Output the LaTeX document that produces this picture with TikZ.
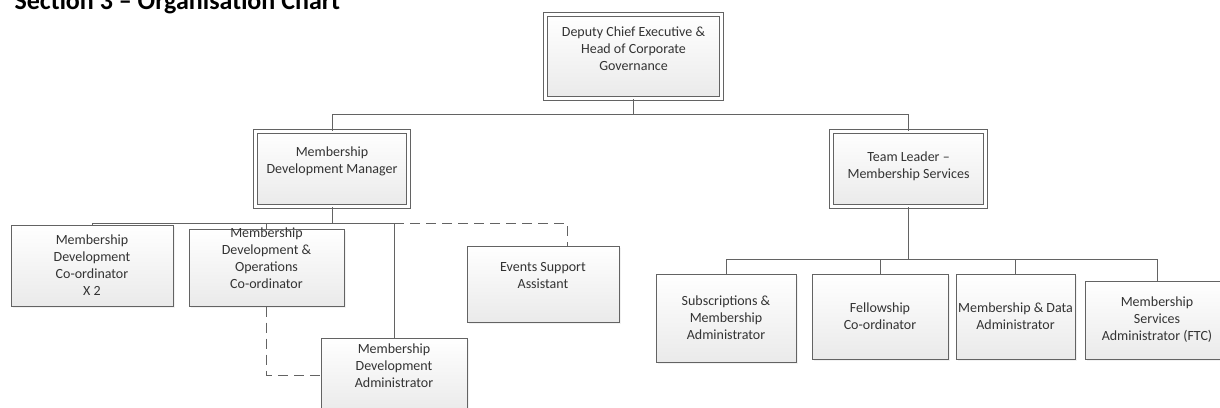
\documentclass[tikz,border=0pt]{standalone}
\usepackage{fontspec}
\setmainfont{Carlito}
\usetikzlibrary{positioning,shadows}
\definecolor{linegray}{HTML}{636363}
\definecolor{boxgray}{HTML}{EAEAEA}
\definecolor{textgray}{HTML}{333333}
\newcommand{\rolelabel}[2][0pt]{\raisebox{\dimexpr#1-5pt\relax}[0pt][0pt]{\begin{tabular}{@{}c@{}}#2\end{tabular}}}
\tikzset{
  role/.style={draw=linegray, line width=1pt, top color=white, bottom color=boxgray,
    inner sep=1pt, text=textgray, font=\fontsize{14}{17}\selectfont,
    drop shadow={opacity=0.1, shadow xshift=1.5pt, shadow yshift=-1.5pt}},
  head/.style={role, double=white, double distance=2.4pt},
  link/.style={draw=linegray, line width=1pt},
  dashed link/.style={link, dash pattern=on 10pt off 6pt}
}
\begin{document}
\begin{tikzpicture}[x=1pt, y=-1pt]
    \useasboundingbox (0,0) rectangle (1220,407);
    \node[anchor=base west, font=\fontsize{26}{31}\selectfont\bfseries] (title) at (11,9) {Section 3 – Organisation Chart};

    \node[head, minimum width=176pt, minimum height=84pt] (dce) at (633.5,56.5) {\rolelabel[8pt]{Deputy Chief Executive \&\\Head of Corporate\\Governance}};
    \node[head, minimum width=153pt, minimum height=75pt] (mdm) at (332,169) {\rolelabel[9pt]{Membership\\Development Manager}};
    \node[head, minimum width=154pt, minimum height=75pt] (tl) at (908.5,169) {\rolelabel[3.5pt]{Team Leader –\\Membership Services}};

    \node[role, minimum width=162pt, minimum height=81pt] (mdc) at (92,265.5) {\rolelabel{Membership\\Development\\Co-ordinator\\X 2}};
    \node[role, minimum width=155pt, minimum height=77pt, right=15pt of mdc, yshift=-2pt] (mdoc) {\rolelabel[9pt]{Membership\\Development \&\\Operations\\Co-ordinator}};
    \node[role, minimum width=152pt, minimum height=76pt] (esa) at (543,284) {\rolelabel[9pt]{Events Support\\Assistant}};
    \node[role, minimum width=146pt, minimum height=74pt] (mda) at (394,375) {\rolelabel[9pt]{Membership\\Development\\Administrator}};

    \node[role, minimum width=140pt, minimum height=88pt] (sma) at (726,318) {\rolelabel{Subscriptions \&\\Membership\\Administrator}};
    \node[role, minimum width=136pt, minimum height=85pt, right=15pt of sma, yshift=1.5pt] (fell) {\rolelabel{Fellowship\\Co-ordinator}};
    \node[role, minimum width=119pt, minimum height=85pt, right=7pt of fell] (mdata) {\rolelabel{Membership \& Data\\Administrator}};
    \node[role, minimum width=144pt, minimum height=78pt, right=9pt of mdata, yshift=-3.5pt] (msa) {\rolelabel[1pt]{Membership\\Services\\Administrator (FTC)}};

    \coordinate (topbar) at (0,114);
    \coordinate (devbar) at (0,223);
    \coordinate (svcbar) at (0,259);

    \draw[link] (dce.south) -- (dce.south |- topbar) -| (mdm.north);
    \draw[link] (dce.south |- topbar) -| (tl.north);

    \draw[link] (mdm.south) -- (mdm.south |- devbar);
    \draw[link] (mdc.north) |- (mda.north |- devbar) -- (mda.north);
    \draw[link] (mdoc.north) -- (mdoc.north |- devbar);
    \draw[dashed link] (mda.north |- devbar) -| ([xshift=24pt]esa.north);
    \draw[dashed link] (mdoc.south) |- (mda.west);

    \draw[link] (tl.south) -- (tl.south |- svcbar);
    \draw[link] (sma.north) |- (msa.north |- svcbar) -- (msa.north);
    \draw[link] (fell.north) -- (fell.north |- svcbar);
    \draw[link] (mdata.north) -- (mdata.north |- svcbar);
\end{tikzpicture}
\end{document}
